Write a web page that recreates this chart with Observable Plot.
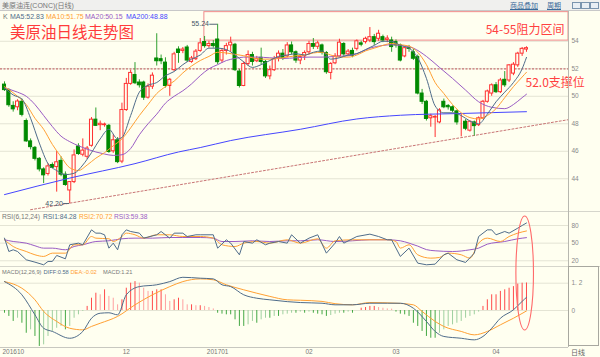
<!DOCTYPE html>
<html><head><meta charset="utf-8">
<script src="https://cdn.jsdelivr.net/npm/d3@7"></script>
<script src="https://cdn.jsdelivr.net/npm/@observablehq/plot@0.6"></script>
<style>
html,body{margin:0;padding:0;background:#FFFFF0;}
#wrap{position:relative;width:600px;height:357px;background:#FFFFF0;overflow:hidden;font-family:"Liberation Sans","Noto Sans CJK SC",Arial,sans-serif;}
.a{position:absolute;white-space:nowrap;line-height:1;}
.p{position:absolute;left:0;}
.p svg{display:block;overflow:visible;}
</style></head><body><div id="wrap"></div>
<script>
// ---------- DATA ----------
const open = [50.85,50.45,49.3,49.2,49.6,48.2,46.72,46.25,45.45,44.68,
 44.35,45.0,44.85,45.3,44.3,43.15,43.76,46.35,45.75,45.6,
 46.4,48.3,47.9,47.9,47.85,46.0,46.8,45.25,49.0,50.9,
 51.55,51.0,51.0,49.9,50.7,52.75,52.7,52.45,50.75,51.9,
 53.4,53.3,53.55,52.5,52.7,53.3,53.95,53.65,53.8,54.13,
 52.6,53.3,53.7,53.75,51.8,50.75,52.35,53.0,52.55,52.8,
 52.5,51.45,51.9,52.8,53.1,52.9,53.7,53.2,52.6,52.9,
 53.2,53.8,53.6,53.7,53.15,51.7,52.4,52.9,53.8,53.05,
 53.3,53.45,53.85,53.94,54.06,54.3,54.18,54.3,54.1,54.06,
 53.94,53.7,52.9,53.5,53.2,52.85,50.2,49.6,48.4,48.45,
 48.1,49.6,49.3,49.2,48.9,48.3,48.15,47.5,48.1,47.9,
 48.4,49.6,50.2,50.8,50.3,51.2,51.15,51.65,52.25,53.1,
 53.4];
const high = [51.05,50.55,49.6,49.75,49.8,48.35,46.9,46.35,45.55,44.8,
 45.1,45.15,45.99,45.6,44.5,43.8,46.1,46.55,46.9,46.35,
 48.45,49.15,48.2,48.05,47.95,47.2,47.0,49.5,51.3,51.9,
 52.45,51.2,51.1,50.9,51.7,54.55,53.0,52.8,51.3,53.2,
 53.6,53.55,53.7,52.9,53.4,54.2,54.35,54.0,54.05,55.24,
 53.45,53.85,54.3,53.85,51.95,52.5,53.3,53.2,52.9,53.5,
 52.6,52.2,52.9,53.3,53.4,53.9,53.95,53.3,53.0,53.3,
 54.0,54.2,54.0,53.8,53.25,52.45,53.1,54.15,53.9,53.4,
 53.5,54.1,54.0,54.3,55.0,54.5,54.8,54.45,54.4,54.3,
 54.1,53.8,53.6,53.7,53.4,53.0,50.5,49.7,48.7,48.6,
 49.1,49.8,49.4,49.3,49.0,48.7,48.3,48.2,48.2,48.5,
 49.7,50.45,50.9,51.0,51.3,51.8,52.3,52.45,53.2,53.55,
 53.6];
const low = [50.35,49.2,48.85,48.95,48.5,46.65,46.1,45.3,44.5,43.65,
 44.2,44.75,43.03,44.15,43.45,42.2,43.65,45.7,45.6,45.4,
 46.3,47.8,47.5,47.75,45.85,45.85,45.1,45.1,48.9,50.8,
 50.85,50.6,49.7,49.8,50.5,52.2,52.3,50.6,50.0,51.8,
 52.4,53.1,52.45,52.4,52.6,53.2,53.5,53.5,53.5,52.3,
 52.4,53.0,53.2,51.8,50.6,50.7,52.2,52.2,52.45,52.3,
 51.3,51.2,51.8,52.5,52.6,52.8,53.0,52.4,52.3,52.6,
 53.0,53.4,53.4,53.0,51.6,51.2,52.3,52.8,52.9,52.9,
 52.8,53.3,53.6,53.8,53.9,53.7,54.0,53.9,53.9,53.2,
 53.5,52.5,52.8,53.2,52.6,50.1,49.4,48.2,47.75,47.0,
 48.0,49.1,49.0,48.8,47.9,47.05,47.5,47.4,47.1,47.8,
 48.3,49.5,50.0,50.2,50.2,50.65,51.0,51.5,52.1,52.9,
 53.2];
const close = [50.45,49.35,49.05,49.62,48.65,46.72,46.3,45.45,44.68,44.25,
 44.9,44.8,45.2,44.3,43.55,43.76,45.7,45.8,46.05,46.2,
 48.3,47.85,48.0,47.95,45.95,46.8,45.21,49.0,50.9,51.7,
 50.95,50.8,49.9,50.7,51.5,52.55,52.55,50.75,51.2,53.05,
 53.15,53.4,52.6,52.75,53.25,53.85,53.65,53.8,53.65,52.48,
 53.3,53.65,53.9,51.9,50.75,52.35,53.0,52.5,52.7,52.5,
 51.45,51.9,52.7,53.1,52.8,53.7,53.2,52.6,52.85,53.15,
 53.8,53.6,53.85,53.15,51.75,52.35,52.9,53.9,53.05,53.25,
 52.95,54.0,53.75,54.18,54.3,53.94,54.55,54.06,54.2,53.58,
 53.7,52.6,53.5,53.45,52.73,50.2,49.6,48.35,48.55,48.5,
 48.97,49.2,49.2,48.95,48.1,48.3,47.64,48.15,47.83,48.4,
 49.6,50.35,50.8,50.3,51.15,50.8,52.25,52.3,53.1,53.45,
 53.5];

const ma5Idx = [0,2,4,6,8,10,12,14,16,18,20,22,24,26,27,29,31,33,35,37,39,41,43,45,47,49,51,53,55,57,59,61,63,65,67,69,71,73,75,77,79,81,83,85,87,89,91,93,95,97,99,101,103,105,107,109,111,113,115,117,119,120];
const ma5Val = [50.6,50.1,49.8,48.4,46.6,45.1,44.6,44.3,44.4,45.0,45.9,46.9,47.6,46.9,47.0,48.6,50.3,50.8,51.0,51.5,51.8,52.3,52.7,53.0,53.5,53.5,53.4,53.0,52.5,52.1,52.3,52.6,52.9,53.0,53.1,53.0,53.2,53.3,52.7,52.8,53.0,53.1,53.4,53.7,54.0,54.0,53.7,53.5,52.8,51.3,49.3,48.8,48.8,48.6,48.2,48.0,48.7,49.6,50.3,51.0,52.0,52.83];
const ma10Idx = [0,3,5,7,9,11,13,15,17,19,21,23,25,27,29,31,33,35,37,39,41,43,45,47,49,51,53,55,57,59,61,63,65,67,69,71,73,75,77,79,81,83,85,87,89,91,93,95,97,99,101,103,105,107,109,111,113,115,117,119,120];
const ma10Val = [50.7,50.0,49.4,48.4,47.6,46.5,45.6,44.8,44.6,45.0,45.5,45.9,46.4,46.9,47.7,48.6,49.4,50.2,50.7,51.1,51.7,52.2,52.6,52.9,53.2,53.15,53.05,52.95,52.8,52.7,52.7,52.75,52.85,52.95,53.0,53.15,53.2,53.0,52.85,52.85,53.0,53.3,53.5,53.7,53.85,53.75,53.65,53.2,52.3,51.0,50.2,49.4,48.8,48.45,48.35,48.6,49.1,49.9,50.7,51.4,51.75];
const ma20Idx = [0,3,5,7,9,11,13,15,17,19,21,23,25,27,29,31,33,35,37,39,41,43,45,47,49,51,53,55,58,61,64,67,70,73,76,79,81,84,87,89,91,94,97,100,103,106,109,112,115,117,119,120];
const ma20Val = [50.6,50.3,50.0,49.4,48.6,47.8,47.1,46.7,46.4,46.15,45.95,45.8,45.7,45.75,46.2,47.2,48.0,48.7,49.5,50.0,50.4,50.9,51.5,52.0,52.3,52.6,52.75,52.85,52.85,52.8,52.75,52.8,52.85,52.85,52.9,52.95,53.1,53.5,53.7,53.75,53.7,53.5,52.9,52.1,51.3,50.45,49.6,49.2,49.1,49.4,49.9,50.15];
const ma200Idx = [0,15,30,40,45,52,68,81,91,105,120];
const ma200Val = [42.85,44.05,45.1,45.95,46.27,46.78,47.6,48.35,48.62,48.75,48.88];

const priceTicks = [44,46,48,50,52,54];
const supportLevel = 52;
const trendIdx = [6,129.66];
const trendVal = [41.75,48.3];
const zoneIdx = [45.95,129.66];
const zoneVal = [54.05,56.12];
const extremeIdx = [49,15];
const extremeVal = [55.24,42.20];
const extremeLabelIdx = [47.0,13.4];

const rsi1Idx = [0,1,2,3,5,7,9,10,11,12,14,15,17,18,20,21,22,23,24,25,26,27,28,29,31,32,35,36,38,39,41,42,44,45,48,49,51,52,54,55,57,58,60,61,63,65,66,68,70,72,74,76,77,78,81,84,86,88,89,91,93,95,97,99,101,102,104,106,108,109,111,112,113,115,116,118,119,120];
const rsi1Val = [58.5,35.8,38.7,35.8,21.7,17.7,13.2,18.9,18.9,29.1,23.4,47.2,50,47.2,72.6,67,67,64.2,41.5,50,38.7,64.2,72.6,69.8,67,58.5,64.2,69.8,58.5,67,67,61.3,64.2,64.2,64.2,41.5,55.7,50,30.2,52.8,50,55.7,47.2,50,52.8,50,64.2,50,58.5,64.2,33,50,61.3,50,61.3,65.3,61.3,55.7,55.7,27.4,41.5,16,13.2,14.3,30.2,33,21.7,17.2,33,61.3,72.6,72.6,64.2,69.8,67,75.5,80,84.28];
const rsi2Idx = [0,2,5,7,9,11,14,16,18,20,21,24,25,27,28,30,32,35,38,41,45,48,50,53,55,58,61,65,68,72,74,76,80,84,88,90,91,93,95,98,100,102,105,107,109,111,114,116,118,120];
const rsi2Val = [55.7,44.3,35.8,30.2,27.4,33,33,47.2,47.2,61.3,58.5,57.4,52.8,61.3,67,64.2,58.5,64.2,64.2,61.3,61.3,58.5,47.2,44.3,50,52.8,50,55.7,50,57.4,41.5,54,55.7,55.7,55.7,52.8,41.5,47.2,30.2,24.5,25.7,33,30.2,24.5,50,58.5,52.8,61.3,67,70.72];
const rsi3Idx = [0,2,5,7,9,11,14,16,18,21,24,27,30,34,38,41,45,48,50,53,57,61,65,68,72,76,80,84,88,91,93,95,97,99,103,107,109,111,115,118,120];
const rsi3Val = [55.7,52.8,50,45.5,41.5,41.5,38.7,44.3,47.2,52.8,54,57.4,58.5,58.5,59.6,59.6,59.6,58.5,52.8,52.8,54,52.8,54,54,55.7,52.8,54,55.7,55.7,54,50,45,39,37,35.8,38.7,41.5,48.3,52.8,57.4,59.38];
const rsiTicks = [20,50,80];

const diffIdx = [0,4,7,9,11,15,18,20,22,24,26,28,31,35,38,41,45,48,50,52,55,58,61,65,68,73,76,80,84,88,91,94,97,99,101,105,108,110,112,114,117,119,120];
const diffVal = [1.27,0.69,-0.19,-0.78,-0.92,-1.22,-0.92,-0.34,-0.12,-0.1,-0.19,0.69,1.05,1.13,1.27,1.46,1.42,1.39,1.13,1.05,0.69,0.54,0.47,0.39,0.35,0.32,0.25,0.25,0.32,0.32,0.32,0.10,-0.48,-0.92,-1.14,-1.22,-1.29,-1.14,-0.78,-0.34,0.03,0.40,0.58];
const deaIdx = [0,4,7,9,12,15,18,20,22,26,30,34,38,41,45,48,51,55,58,61,65,68,73,76,80,84,90,94,96,99,101,105,108,111,114,117,120];
const deaVal = [1.27,0.98,0.47,-0.04,-0.48,-0.78,-0.85,-0.70,-0.56,-0.26,0.25,0.69,1.05,1.27,1.39,1.35,1.13,0.91,0.76,0.62,0.47,0.45,0.40,0.30,0.25,0.35,0.32,0.25,-0.04,-0.48,-0.70,-0.92,-1.07,-0.92,-0.63,-0.34,-0.02];
const macdHist = [-0.12,-0.26,-0.48,-0.34,-0.56,-1.0,-0.85,-1.14,-1.58,-1.51,
 -1.14,-0.92,-0.78,-0.70,-0.85,-0.70,-0.34,-0.19,-0.04,0.18,
 0.54,0.76,0.69,0.91,0.62,0.54,0.25,0.47,0.98,1.20,
 1.27,1.20,0.98,0.84,0.84,0.91,0.91,0.69,0.40,0.47,
 0.54,0.47,0.25,0.25,0.21,0.21,0.18,0.13,0.07,-0.12,
 -0.16,-0.19,-0.19,-0.41,-0.70,-0.70,-0.63,-0.48,-0.56,-0.41,
 -0.34,-0.34,-0.26,-0.26,-0.19,-0.16,-0.12,-0.12,-0.07,-0.12,
 -0.07,-0.12,-0.16,-0.19,-0.26,-0.22,-0.16,-0.12,-0.12,-0.07,
 -0.12,0.0,0.10,0.13,0.18,0.18,0.13,0.10,0.07,0.06,
 -0.07,-0.16,-0.19,-0.26,-0.56,-0.70,-0.92,-1.14,-1.22,-1.22,
 -1.0,-0.85,-0.70,-0.63,-0.56,-0.48,-0.34,-0.26,-0.19,-0.07,
 0.18,0.47,0.69,0.69,0.84,0.91,0.98,1.05,1.16,1.20,
 1.21];
const macdTicks = [0,1.2];

const monthIdx = [0,28,49,70,90,113];
const monthLabels = ["201610","12","201701","02","03","04"];

(function () {
// ---------- STYLE ----------
const BG = "#FFFFF0";
const UP = "#ff3030", DN = "#008a00", DNW = "#30a030";
const C5 = "#4f6c8a", C10 = "#ffa033", C20 = "#9a5cc4", C200 = "#4646ff";
const GRID = "#e4e4d4", AX = "#8a8a8a", RED = "#ff4040";
const xDomain = [-0.92, 129.66];
const FONT = "Liberation Sans, Noto Sans CJK SC, Arial, sans-serif";
const LW = 1;

const candles = close.map((c, i) => ({i, o: open[i], h: high[i], l: low[i], c}));
const ups = candles.filter(d => d.c >= d.o);
const downs = candles.filter(d => d.c < d.o);
const pts = (idx, val) => idx.map((i, k) => ({i, v: val[k]}));
const hist = macdHist.map((v, i) => ({i, v, grow: i === 0 || Math.abs(v) >= Math.abs(macdHist[i-1])}));

const wrap = document.getElementById("wrap");
function place(node, topPx, height) {
  const d = document.createElement("div");
  d.className = "p"; d.style.top = topPx + "px"; d.style.height = height + "px";
  d.appendChild(node); wrap.appendChild(d); return d;
}
function txt(s, left, topPx, size, color, extra) {
  const e = document.createElement("div");
  e.className = "a"; e.textContent = s;
  e.style.left = left + "px"; e.style.top = topPx + "px";
  e.style.fontSize = size + "px"; e.style.color = color;
  if (extra) Object.assign(e.style, extra);
  wrap.appendChild(e); return e;
}
const common = {width: 600, marginLeft: 0, marginRight: 32,
  style: {background: "transparent", fontFamily: FONT, overflow: "visible"}};
const yAxisOpts = {anchor: "right", tickSize: 0, tickPadding: 3, fill: AX, fontSize: 6.5, label: null};

// ---------- MAIN PANEL ----------
const main = Plot.plot({...common, height: 201, marginTop: 0, marginBottom: 0,
  x: {domain: xDomain, axis: null},
  y: {domain: [41.62, 56.24], axis: null, label: null},
  marks: [
    Plot.ruleY(priceTicks, {stroke: GRID}),
    Plot.axisY(priceTicks, yAxisOpts),
    Plot.ruleY([supportLevel], {stroke: "#c87474", strokeWidth: 1.3, strokeDasharray: "2,1.5"}),
    Plot.line(pts(trendIdx, trendVal), {x: "i", y: "v", stroke: "#c87474", strokeWidth: LW, strokeDasharray: "2,2"}),
    Plot.rect([{a: zoneIdx[0], b: zoneIdx[1], lo: zoneVal[0], hi: zoneVal[1]}], {x1: "a", x2: "b", y1: "lo", y2: "hi", fill: "none", stroke: "#f08a8a"}),
    Plot.ruleX(candles, {x: "i", y1: "l", y2: "h", stroke: d => d.c >= d.o ? UP : DNW}),
    Plot.rect(downs, {x1: d => d.i - 0.35, x2: d => d.i + 0.35, y1: "o", y2: "c", fill: DN, stroke: DN, strokeWidth: 1}),
    Plot.rect(ups, {x1: d => d.i - 0.35, x2: d => d.i + 0.35, y1: "o", y2: "c", fill: BG, stroke: UP, strokeWidth: 1}),
    Plot.line(pts(ma200Idx, ma200Val), {x: "i", y: "v", stroke: C200, strokeWidth: LW, curve: "monotone-x"}),
    Plot.line(pts(ma20Idx, ma20Val), {x: "i", y: "v", stroke: C20, strokeWidth: LW, curve: "monotone-x"}),
    Plot.line(pts(ma10Idx, ma10Val), {x: "i", y: "v", stroke: C10, strokeWidth: LW, curve: "monotone-x"}),
    Plot.line(pts(ma5Idx, ma5Val), {x: "i", y: "v", stroke: C5, strokeWidth: LW, curve: "monotone-x"}),
    Plot.ruleY(extremeVal.map((v, k) => ({v, a: extremeLabelIdx[k] + 0.2, b: extremeIdx[k]})), {y: "v", x1: "a", x2: "b", stroke: "#556677"}),
    Plot.text(extremeVal.map((v, k) => ({v, a: extremeLabelIdx[k], t: v.toFixed(2)})), {x: "a", y: "v", text: "t", textAnchor: "end", fill: "#445566", fontSize: 7}),
    Plot.text([{a: zoneIdx[1], v: (zoneVal[0] + zoneVal[1]) / 2}], {x: "a", y: "v", text: () => "54-55阻力区间", textAnchor: "end", dx: -4, dy: 4, fill: RED, fontSize: 12, fontFamily: "Noto Sans CJK SC"}),
    Plot.text([{a: close.length - 1, v: supportLevel}], {x: "a", y: "v", text: () => "52.0支撑位", textAnchor: "start", dx: -1, dy: 14, fill: RED, fontSize: 12, fontFamily: "Noto Sans CJK SC"})
  ]
});
place(main, 10, 201);

// ---------- RSI PANEL ----------
const rsi = Plot.plot({...common, height: 55, marginTop: 0, marginBottom: 0,
  x: {domain: xDomain, axis: null},
  y: {domain: [8.6, 102.1], axis: null, label: null},
  marks: [
    Plot.ruleY(rsiTicks, {stroke: GRID}),
    Plot.axisY(rsiTicks, yAxisOpts),
    Plot.line(pts(rsi3Idx, rsi3Val), {x: "i", y: "v", stroke: C20, strokeWidth: LW, curve: "monotone-x"}),
    Plot.line(pts(rsi2Idx, rsi2Val), {x: "i", y: "v", stroke: C10, strokeWidth: LW, curve: "monotone-x"}),
    Plot.line(pts(rsi1Idx, rsi1Val), {x: "i", y: "v", stroke: C5, strokeWidth: LW})
  ]
});
const rsiDiv = place(rsi, 211, 55);
rsiDiv.style.borderTop = "1px solid #d6d6cc";

// ---------- MACD PANEL ----------
const macd = Plot.plot({...common, height: 91, marginTop: 0, marginBottom: 11,
  x: {domain: xDomain, axis: null},
  y: {domain: [-1.626, 1.89], axis: null, label: null},
  marks: [
    Plot.ruleY(macdTicks, {stroke: GRID}),
    Plot.axisY(macdTicks, {...yAxisOpts, tickFormat: d => d === 0 ? "0" : "1. 2"}),
    Plot.ruleX(hist, {x: "i", y1: 0, y2: "v", strokeWidth: 1,
      stroke: d => d.v >= 0 ? (d.grow ? "#ff4a4a" : "#ffa0a0") : (d.grow ? "#44a844" : "#9fd09f")}),
    Plot.line(pts(deaIdx, deaVal), {x: "i", y: "v", stroke: C10, strokeWidth: LW, curve: "monotone-x"}),
    Plot.line(pts(diffIdx, diffVal), {x: "i", y: "v", stroke: C5, strokeWidth: LW, curve: "monotone-x"}),
    Plot.ruleY([-1.626], {stroke: "#c8c8c0"}),
    Plot.text(monthIdx.slice(1).map((i, k) => ({i, t: monthLabels[k + 1]})), {x: "i", text: "t", frameAnchor: "bottom", dy: 6, fill: "#777", fontSize: 6.5}),
    Plot.text([{i: monthIdx[0], t: monthLabels[0]}], {x: "i", text: "t", frameAnchor: "bottom", textAnchor: "start", dx: -2, dy: 6, fill: "#777", fontSize: 6.5})
  ]
});
const macdDiv = place(macd, 266, 91);
macdDiv.style.borderTop = "1px solid #d6d6cc";

// ---------- FRAME / HEADERS ----------
const topBar = document.createElement("div");
Object.assign(topBar.style, {position: "absolute", left: "0", top: "0", width: "600px", height: "10px", background: "#f0f0ee", borderBottom: "1px solid #c8c8c8"});
wrap.appendChild(topBar);
txt("美原油连(CONC)(日线)", 2, 1.5, 7, "#777");
txt("商品叠加", 510, 1.5, 7, "#3b6a9a", {textDecoration: "underline"});
txt("周期", 547, 1.5, 7, "#3b6a9a", {textDecoration: "underline"});
[572, 581, 590].forEach(x => {
  const b = document.createElement("div");
  Object.assign(b.style, {position: "absolute", left: x + "px", top: "2px", width: "7px", height: "5px", border: "1px solid #7a94ae", background: "#e8eef4"});
  wrap.appendChild(b);
});
const axisLine = document.createElement("div");
Object.assign(axisLine.style, {position: "absolute", left: "568px", top: "11px", width: "1px", height: "336px", background: "#b8b8b0"});
wrap.appendChild(axisLine);
const boxR = document.createElement("div");
Object.assign(boxR.style, {position: "absolute", left: "568px", top: "266px", width: "31px", height: "80px", border: "1px solid #a8a8a0", boxSizing: "border-box"});
wrap.appendChild(boxR);
txt("日线", 571, 348.5, 7, "#666");

txt("K", 3, 13, 7, "#777");
txt("MA5:52.83", 10, 13, 7, C5);
txt("MA10:51.75", 46, 13, 7, C10);
txt("MA20:50.15", 85, 13, 7, C20);
txt("MA200:48.88", 126, 13, 7, C200);
txt("美原油日线走势图", 10, 24, 15.5, "#ff3b3b", {fontFamily: "Noto Sans CJK SC"});

txt("RSI(6,12,24)", 2, 214, 6.7, "#777");
txt("RSI1:84.28", 43, 214, 6.7, C5);
txt("RSI2:70.72", 79, 214, 6.7, C10);
txt("RSI3:59.38", 114, 214, 6.7, C20);

txt("MACD(12,26,9)", 2, 270, 5.7, "#777");
txt("DIFF:0.58", 43.5, 270, 5.7, C5);
txt("DEA:-0.02", 70.5, 270, 5.7, C10);
txt("MACD:1.21", 103, 270, 5.7, "#777");

// ---------- ELLIPSE ANNOTATION ----------
const ellIdx = 119.7, ellTopRsi = 93.6, ellBottomMacd = -0.92;
const cx = macd.scale("x").apply(ellIdx);
const yTop = 211 + rsi.scale("y").apply(ellTopRsi);
const yBot = 266 + macd.scale("y").apply(ellBottomMacd);
const ov = d3.select(wrap).append("svg").attr("width", 600).attr("height", 357)
  .style("position", "absolute").style("left", 0).style("top", 0).style("pointer-events", "none");
ov.append("ellipse").attr("cx", cx).attr("cy", (yTop + yBot) / 2).attr("rx", 8.8).attr("ry", (yBot - yTop) / 2)
  .attr("fill", "none").attr("stroke", "#ff6a6a").attr("stroke-width", 1.1);
})();
</script></body></html>
